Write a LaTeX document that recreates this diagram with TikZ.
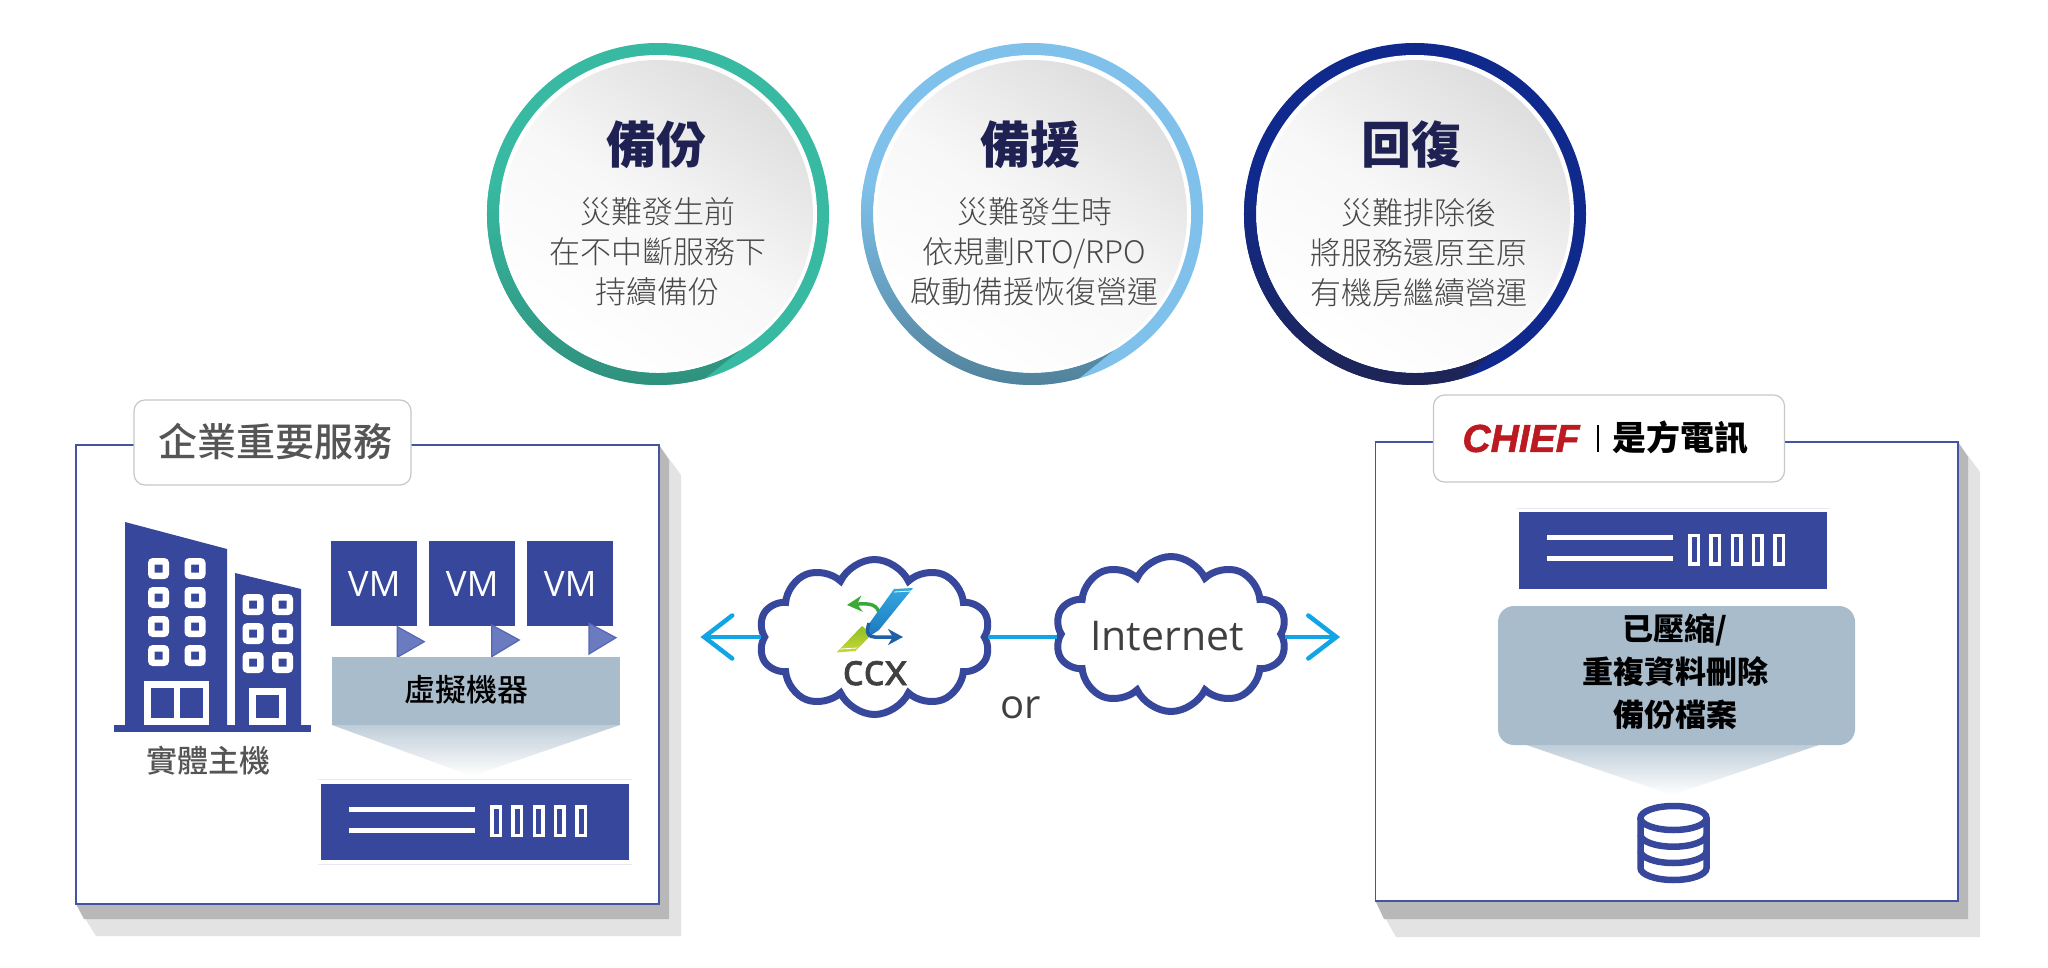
\documentclass[tikz,border=0pt]{standalone}
\usepackage{fontspec}
\setmainfont{Open Sans}
\newfontfamily\cjkfont{Noto Sans CJK TC}
\newfontfamily\cjklight{Noto Sans CJK TC Light}
\newfontfamily\cjkmed{Noto Sans CJK TC Medium}
\newfontfamily\chieffont[BoldItalicFeatures={FakeBold=1.4}]{Liberation Sans}
\newfontfamily\ccxfont[FakeBold=1.6]{Open Sans}
\usetikzlibrary{positioning}
\usetikzlibrary{arrows.meta}
\usetikzlibrary{shapes.symbols}
\definecolor{barblue}{HTML}{37479B}
\definecolor{boxline}{HTML}{4553A3}
\definecolor{slate}{HTML}{A9BCCC}
\definecolor{wire}{HTML}{12A5E6}
\definecolor{inkgrey}{HTML}{555555}
\definecolor{bodygrey}{HTML}{484848}
\definecolor{navy}{HTML}{1F2152}
\definecolor{chiefred}{HTML}{BB1A21}
\definecolor{ringA}{HTML}{38B9A1}
\definecolor{darkA}{HTML}{2F8F7B}
\definecolor{ringB}{HTML}{7FC1EA}
\definecolor{darkB}{HTML}{4F7F97}
\definecolor{ringC}{HTML}{10298C}
\definecolor{darkC}{HTML}{1F2552}
\definecolor{triblue}{HTML}{6B7BC0}
\definecolor{triedge}{HTML}{5666B6}
\definecolor{logogreen}{HTML}{3BA935}
\definecolor{logoblue}{HTML}{1F5FA8}
\definecolor{slashtop}{HTML}{35A8E0}
\definecolor{slashlow}{HTML}{1C78BE}
\definecolor{limetop}{HTML}{8DBE27}
\definecolor{limelow}{HTML}{CBD833}
\tikzset{
    ring/.style = {circle, inner sep=0pt, outer sep=0pt, minimum size=342pt},
    hole/.style = {circle, fill=white, inner sep=0pt, outer sep=0pt, minimum size=318pt},
    disc/.style = {circle, inner sep=0pt, outer sep=0pt, minimum size=310pt,
                 top color=black!13, bottom color=white, middle color=black!3, shading angle=-35},
    headline/.style = {inner sep=0pt, text=navy, font=\cjkfont\bfseries\fontsize{50}{50}\selectfont},
    bodytext/.style = {inner sep=0pt, align=center, text=bodygrey, font=\cjklight\fontsize{31}{40}\selectfont},
    panel/.style = {draw=boxline, line width=1.8pt, fill=white, inner sep=0pt},
    tag/.style = {draw=black!22, line width=1.2pt, fill=white, rounded corners=11pt, inner sep=0pt},
    bar/.style = {fill=barblue, inner sep=0pt, outer sep=0pt},
    slot/.style = {draw=white, line width=3.5pt, fill=barblue, inner sep=0pt, minimum width=8.5pt, minimum height=28.5pt},
    win/.style = {draw=white, line width=6.5pt, fill=barblue, rounded corners=2pt, inner sep=0pt, minimum size=14.5pt},
    pane/.style = {fill=barblue, inner sep=0pt, outer sep=0pt},
    strip/.style = {fill=white, minimum width=126pt, minimum height=5pt, inner sep=0pt},
    vmbox/.style = {bar, text=white, minimum width=86pt, minimum height=85.5pt, font=\fontsize{35}{35}\selectfont},
    slatebox/.style = {fill=slate, inner sep=0pt, outer sep=0pt},
    boldline/.style = {inner sep=0pt, align=center, text=black, font=\cjkfont\bfseries\fontsize{31}{43}\selectfont},
    cloudy/.style = {cloud, cloud puffs=10, cloud puff arc=130, aspect=1.5, draw=barblue, line width=7pt, fill=white, inner sep=0pt},
    link/.style = {draw=wire, line width=4.5pt},
    tri/.style = {fill=triblue, draw=triedge, line width=1.2pt},
    faint/.style = {draw=barblue!12, line width=1pt},
    dbline/.style = {draw=barblue, line width=6.5pt},
}
\begin{document}
\begin{tikzpicture}[x=1pt,y=-1pt]
\useasboundingbox (0,0) rectangle (2048,968);
% the three circles
\node (ring1) [ring,fill=ringA] at (658,214) {};
\node (hole1) [hole] at (658,214) {};
\path[top color=ringA,bottom color=darkA] (ring1.170) arc[start angle=170,end angle=286,radius=171pt] -- (hole1.-59) arc[start angle=-59,end angle=-190,radius=159pt] -- cycle;
\node (disc1) [disc] at (658,215) {};
\node (title1) [headline] at (656,145) {備份};
\node (text1) [bodytext] at (657.5,252) {災難發生前\\在不中斷服務下\\持續備份};
\node (ring2) [ring,fill=ringB] at (1032,214) {};
\node (hole2) [hole] at (1032,214) {};
\path[top color=ringB,bottom color=darkB] (ring2.170) arc[start angle=170,end angle=286,radius=171pt] -- (hole2.-59) arc[start angle=-59,end angle=-190,radius=159pt] -- cycle;
\node (disc2) [disc] at (1032,215) {};
\node (title2) [headline] at (1030,145) {備援};
\node (text2) [bodytext] at (1034.5,252) {災難發生時\\依規劃RTO/RPO\\啟動備援恢復營運};
\node (ring3) [ring,fill=ringC] at (1415,214) {};
\node (hole3) [hole] at (1415,214) {};
\path[top color=ringC,bottom color=darkC] (ring3.170) arc[start angle=170,end angle=286,radius=171pt] -- (hole3.-59) arc[start angle=-59,end angle=-190,radius=159pt] -- cycle;
\node (disc3) [disc] at (1415,215) {};
\node (title3) [headline] at (1411,145) {回復};
\node (text3) [bodytext] at (1419,253) {災難排除後\\將服務還原至原\\有機房繼續營運};
% left panel
\fill[black!11] (659,445) -- (681,475) -- (681,936) -- (96,936) -- (76,904) -- cycle;
\fill[black!28] (659,445) -- (669,460) -- (669,919) -- (84,919) -- (76,904) -- cycle;
\node (panelL) [panel,minimum width=583pt,minimum height=459pt] at (367.5,674.5) {};
\node (tagL) [tag,minimum width=277pt,minimum height=85pt] at (272.5,442.5) {};
\node (tagLtext) [inner sep=0pt,text=inkgrey,font=\cjkmed\fontsize{39}{39}\selectfont] at (275.5,442) {企業重要服務};
\fill[barblue] (125,522) -- (227,549) -- (227,726) -- (125,726) -- cycle;
\fill[barblue] (235,573) -- (301,589) -- (301,726) -- (235,726) -- cycle;
\node (win1) [win] at (158.5,568.5) {};
\node (win2) [win,right=15.5pt of win1] {};
\node (win3) [win,below=8pt of win1] {};
\node (win4) [win,right=15.5pt of win3] {};
\node (win5) [win,below=8pt of win3] {};
\node (win6) [win,right=15.5pt of win5] {};
\node (win7) [win,below=8pt of win5] {};
\node (win8) [win,right=15.5pt of win7] {};
\node (win9) [win] at (253,604.5) {};
\node (win10) [win,right=8.5pt of win9] {};
\node (win11) [win,below=8pt of win9] {};
\node (win12) [win,right=8.5pt of win11] {};
\node (win13) [win,below=8pt of win11] {};
\node (win14) [win,right=8.5pt of win13] {};
\node (door1) [fill=white,minimum width=65.5pt,minimum height=45pt,inner sep=0pt] at (176.5,703.5) {};
\node (pane1) [pane,minimum width=23pt,minimum height=30.5pt] at (162,702.75) {};
\node (pane2) [pane,minimum width=23pt,minimum height=30.5pt,right=6.9pt of pane1] {};
\node (door2) [fill=white,minimum width=36.5pt,minimum height=38pt,inner sep=0pt] at (267.5,707) {};
\node (pane3) [pane,minimum width=23pt,minimum height=23pt] at (267.5,706.5) {};
\node (base) [bar,minimum width=197pt,minimum height=7.5pt] at (212.5,728.5) {};
\node (hostlabel) [inner sep=0pt,text=inkgrey,font=\cjkmed\fontsize{31}{31}\selectfont] at (208,761) {實體主機};
\node (vm1) [vmbox] at (374.2,583.7) {VM};
\node (vm2) [vmbox,right=12pt of vm1] {VM};
\node (vm3) [vmbox,right=12pt of vm2] {VM};
\draw[tri] (397.3,626.7) -- (424.3,641.7) -- (397.3,657.3) -- cycle;
\draw[tri] (491.7,625) -- (519.3,640) -- (491.7,656.7) -- cycle;
\draw[tri] (589,623.3) -- (616,637.7) -- (589,654) -- cycle;
\node (vmbar) [slatebox,minimum width=288pt,minimum height=68pt] at (476,691) {};
\node (vmbartext) [inner sep=0pt,text=black,font=\cjkmed\fontsize{31}{31}\selectfont] at (466,690) {虛擬機器};
\coordinate (vmtip) at (472,776);
\path[top color=slate!75,bottom color=white] (vmbar.south west) -- (vmbar.south east) -- (vmtip) -- cycle;
\node (rackL) [bar,minimum width=307.6pt,minimum height=76.4pt] at (474.8,821.8) {};
\draw[faint] ([xshift=-3pt,yshift=4pt]rackL.north west) -- ([xshift=3pt,yshift=4pt]rackL.north east);
\draw[faint] ([xshift=-3pt,yshift=-4pt]rackL.south west) -- ([xshift=3pt,yshift=-4pt]rackL.south east);
\node (lineL1) [strip] at (412,809) {};
\node (lineL2) [strip,below=16pt of lineL1] {};
\node (slotL1) [slot] at (496,821) {};
\node (slotL2) [slot,right=9.25pt of slotL1] {};
\node (slotL3) [slot,right=9.25pt of slotL2] {};
\node (slotL4) [slot,right=9.25pt of slotL3] {};
\node (slotL5) [slot,right=9.25pt of slotL4] {};
% right panel
\fill[black!11] (1958,442) -- (1980,472) -- (1980,937) -- (1396,937) -- (1375.5,901) -- cycle;
\fill[black!28] (1958,442) -- (1968,457) -- (1968,919) -- (1384,919) -- (1375.5,901) -- cycle;
\node (panelR) [panel,minimum width=582.5pt,minimum height=459pt] at (1666.75,671.5) {};
\node (tagR) [tag,minimum width=351pt,minimum height=87pt] at (1609,438.5) {};
\node (chief) [inner sep=0pt,text=chiefred,font=\chieffont\bfseries\itshape\fontsize{39}{39}\selectfont] at (1521,438.5) {CHIEF};
\node (sep) [fill=black,minimum width=1.6pt,minimum height=27pt,inner sep=0pt] at (1598,438) {};
\node (cht) [inner sep=0pt,text=black,font=\cjkfont\bfseries\fontsize{34}{34}\selectfont] at (1680,438) {是方電訊};
\node (rackR) [bar,minimum width=307.6pt,minimum height=76.6pt] at (1672.8,550.3) {};
\draw[faint] ([xshift=-3pt,yshift=4pt]rackR.north west) -- ([xshift=3pt,yshift=4pt]rackR.north east);
\node (lineR1) [strip] at (1610,537) {};
\node (lineR2) [strip,below=16pt of lineR1] {};
\node (slotR1) [slot] at (1694,549.5) {};
\node (slotR2) [slot,right=9.25pt of slotR1] {};
\node (slotR3) [slot,right=9.25pt of slotR2] {};
\node (slotR4) [slot,right=9.25pt of slotR3] {};
\node (slotR5) [slot,right=9.25pt of slotR4] {};
\node (files) [slatebox,rounded corners=16pt,minimum width=357pt,minimum height=139pt] at (1676.5,675.5) {};
\node (filestext) [boldline] at (1675,671.5) {已壓縮/\\重複資料刪除\\備份檔案};
\coordinate (filesleft) at (1526.5,745);
\coordinate (filesright) at (1819,745);
\coordinate (filestip) at (1672,795);
\path[top color=slate!75,bottom color=white] (filesleft) -- (filesright) -- (filestip) -- cycle;
\draw[dbline] (1673.5,818) ellipse [x radius=33pt,y radius=12pt];
\draw[dbline] (1640.5,818) -- (1640.5,868) arc[start angle=180,end angle=360,x radius=33pt,y radius=12pt] -- (1706.5,818);
\draw[dbline] (1640.5,834.7) arc[start angle=180,end angle=360,x radius=33pt,y radius=12pt];
\draw[dbline] (1640.5,851) arc[start angle=180,end angle=360,x radius=33pt,y radius=12pt];
% the link between the panels
\coordinate (tipL) at (700.5,638);
\coordinate (tipR) at (1340,638);
\node (ccx) [cloudy,minimum width=232pt,minimum height=155pt] at (874.5,637) {};
\node (inet) [cloudy,minimum width=232pt,minimum height=155pt] at (1171,634) {};
\node (inetlabel) [inner sep=0pt,text=black!75,font=\fontsize{41}{41}\selectfont] at (1167,636) {Internet};
\draw[link,-{Straight Barb[length=28pt,width=43pt,line cap=round]}] (ccx.west) to (tipL |- ccx.west);
\draw[link] (ccx.east) to (inet.west |- ccx.east);
\draw[link,-{Straight Barb[length=28pt,width=43pt,line cap=round]}] (inet.east |- ccx.east) to (tipR |- ccx.east);
\node (ccxlabel) [inner sep=0pt,text=black!75,anchor=base,font=\ccxfont\fontsize{44}{44}\selectfont] at (875,685) {ccx};
\node (orlabel) [inner sep=0pt,text=black!75,anchor=base,font=\fontsize{40}{40}\selectfont] at (1021,718) {or};
% ccx logo
\draw[logogreen,line width=3.5pt,-{Stealth[length=15pt,width=16pt]}] (880,616) .. controls (878,604) and (870,603) .. (847,605);
\path[top color=limetop,bottom color=limelow] (862,626) -- (872,634) -- (855.5,651) -- (836.5,652.5) -- cycle;
\path[top color=slashtop,bottom color=slashlow] (894,589) -- (913,588) -- (879,630) -- (870,636) -- (866,628) -- cycle;
\draw[white,line width=.8pt] (894,592) -- (911,591);
\draw[white,line width=.8pt] (840,649) -- (857,648);
\draw[logoblue,line width=3.5pt,-{Stealth[length=15pt,width=16pt]}] (869,623) .. controls (864,640) and (872,637) .. (903,637);
\end{tikzpicture}
\end{document}
